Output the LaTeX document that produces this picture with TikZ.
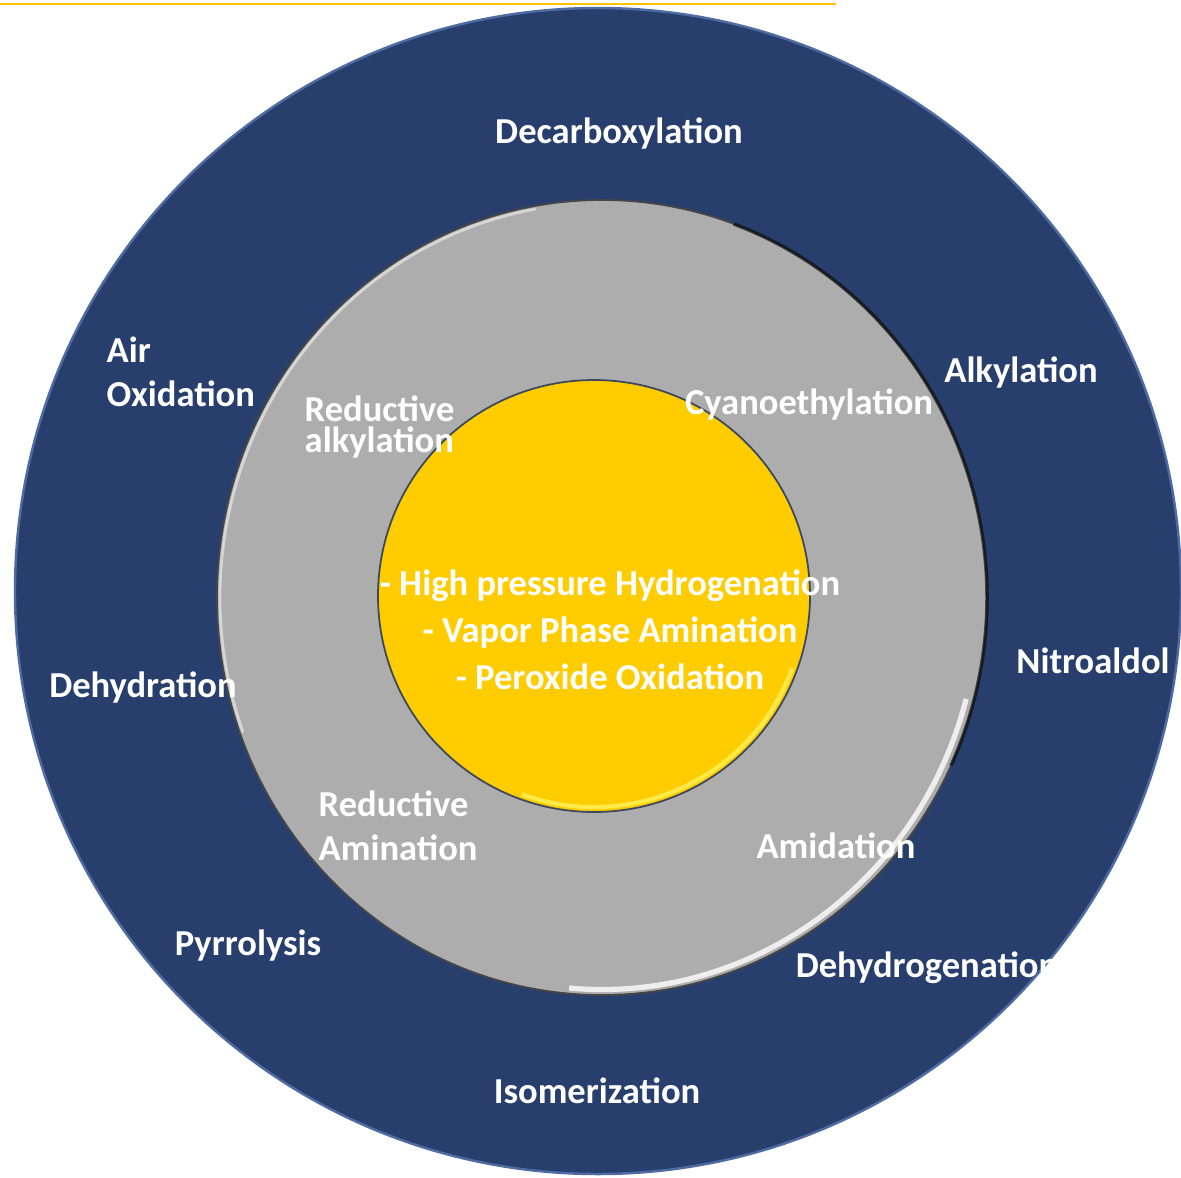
\documentclass[tikz,border=0pt]{standalone}
\usepackage{fontspec}
\setmainfont{Carlito}
\usepackage{tikz}
\usetikzlibrary{positioning,shapes.geometric}

\definecolor{navy}{RGB}{40,63,110}
\definecolor{navyrim}{RGB}{78,108,162}
\definecolor{ringgray}{RGB}{173,173,173}
\definecolor{coreyellow}{RGB}{255,204,0}
\definecolor{coreedge}{RGB}{60,72,92}
\definecolor{topline}{RGB}{255,192,0}

\begin{document}
\begin{tikzpicture}[ring/.style={inner sep=0pt, outer sep=0pt},
  lbl/.style={text=white, inner sep=0pt, font=\bfseries\fontsize{10.4}{12.5}\selectfont},
  tag/.style={lbl, text height=0.7em, text depth=0.2em}]
\useasboundingbox (0,0) rectangle (11.81,-11.77);

% rings
\node[ring, circle, fill=navy, draw=navyrim, line width=0.7pt, minimum size=11.66cm]  (Outer) at (5.98,-5.91) {};
\node[ring, ellipse, fill=ringgray, draw=gray!55!black, line width=0.5pt,
      minimum width=7.70cm, minimum height=7.95cm] (Mid) at (6.02,-5.975) {};
\node[ring, circle, fill=coreyellow, draw=coreedge, line width=0.5pt, minimum size=4.32cm] (Core) at (5.94,-5.96) {};

% bevels
\draw[white, opacity=0.8, line width=1.5pt] (Mid.center) ++(-95:3.77 and 3.92)
      arc[start angle=-95, end angle=-15, x radius=3.77cm, y radius=3.92cm];
\draw[black, opacity=0.6, line width=1pt] (Mid.center) ++(70:3.85 and 3.975)
      arc[start angle=70, end angle=-25, x radius=3.85cm, y radius=3.975cm];
\draw[white, opacity=0.5, line width=0.8pt] (Mid.center) ++(100:3.82 and 3.945)
      arc[start angle=100, end angle=200, x radius=3.82cm, y radius=3.945cm];
\draw[yellow!60!white, opacity=0.7, line width=1.2pt] (Core.center) ++(-110:2.11)
      arc[start angle=-110, end angle=-20, radius=2.11cm];

% line at the top
\coordinate (L1) at (0,-0.04);
\coordinate (L2) at (8.36,-0.04);
\draw[topline, line width=0.6pt] (L1) -- (L2);

% outer ring
\node[tag]                     (Dc) at (6.19,-1.35)  {Decarboxylation};
\node[lbl, align=left, anchor=west] (Ao) at (1.06,-3.72) {Air\\Oxidation};
\node[tag]                     (Al) at (10.21,-3.74) {Alkylation};
\node[tag]                     (Nt) at (10.93,-6.65) {Nitroaldol};
\node[tag]                     (Dh) at (1.43,-6.89)  {Dehydration};
\node[tag]                     (Py) at (2.48,-9.47)  {Pyrrolysis};
\node[tag]                     (Dg) at (9.27,-9.69)  {Dehydrogenation};
\node[tag]                     (Is) at (5.97,-10.95) {Isomerization};

% middle ring
\node[lbl, align=left, anchor=west, font=\bfseries\fontsize{10.4}{8.8}\selectfont]
                               (Ra) at (3.04,-4.27)  {Reductive\\alkylation};
\node[tag]                     (Cy) at (8.09,-4.06)  {Cyanoethylation};
\node[lbl, align=left, anchor=west] (Rm) at (3.18,-8.26) {Reductive\\Amination};
\node[tag]                     (Am) at (8.36,-8.50)  {Amidation};

% core
\node[lbl, align=center, font=\bfseries\fontsize{10.4}{13.4}\selectfont]
                               (Cr) at (6.10,-6.30)  {- High pressure Hydrogenation\\- Vapor Phase Amination\\- Peroxide Oxidation};
\end{tikzpicture}
\end{document}
